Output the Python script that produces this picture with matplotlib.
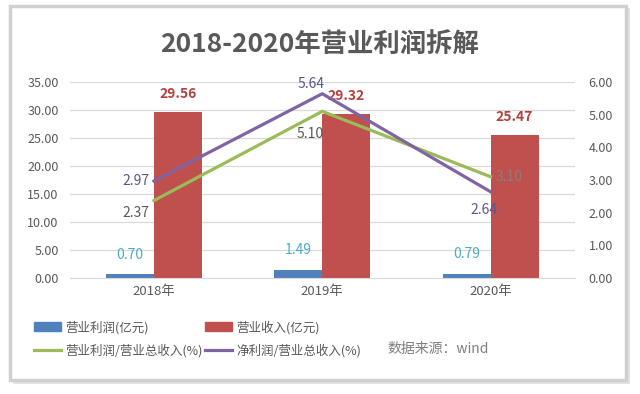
import matplotlib.pyplot as plt
from matplotlib.patches import FancyBboxPatch, Patch
from matplotlib.lines import Line2D

plt.rcParams['font.family'] = ['Noto Sans CJK SC', 'DejaVu Sans']

# data
years = ["2018年", "2019年", "2020年"]
op_profit = [0.70, 1.49, 0.79]          # 营业利润(亿元)
revenue = [29.56, 29.32, 25.47]         # 营业收入(亿元)
op_margin = [2.37, 5.10, 3.10]          # 营业利润/营业总收入(%)
net_margin = [2.97, 5.64, 2.64]         # 净利润/营业总收入(%)

blue = "#4F81BD"
red = "#C0504D"
green = "#9BBB59"
purple = "#8064A2"
grey = "#595959"

fig = plt.figure(figsize=(6.4, 3.94), dpi=100)

# card frame with shadow
shadow = FancyBboxPatch((0.02, 0.025), 0.965, 0.955, boxstyle="square,pad=0",
                        transform=fig.transFigure, facecolor="#e3e3e3",
                        edgecolor="none", zorder=-2)
card = FancyBboxPatch((0.015, 0.035), 0.963, 0.95, boxstyle="square,pad=0",
                      transform=fig.transFigure, facecolor="white",
                      edgecolor="#d0d0d0", linewidth=2.5, zorder=-1)
fig.patches.extend([shadow, card])

ax = fig.add_axes([0.109, 0.2944, 0.789, 0.4976])
ax.set_facecolor("none")
ax2 = ax.twinx()

x = range(len(years))
w = 0.285
xb = [i - w / 2 for i in x]
xr = [i + w / 2 for i in x]
b1 = ax.bar(xb, op_profit, w, color=blue, zorder=2)
b2 = ax.bar(xr, revenue, w, color=red, zorder=2)

ax.set_ylim(0, 35)
ax.set_yticks([0, 5, 10, 15, 20, 25, 30, 35])
ax.set_yticklabels([f"{v:.2f}" for v in ax.get_yticks()])
ax.set_xlim(-0.5, 2.5)
ax.set_xticks(list(x))
ax.set_xticklabels(years)
ax.grid(axis="y", color="#d9d9d9", linewidth=0.9, zorder=0)
ax.set_axisbelow(True)

l1, = ax2.plot(list(x), op_margin, color=green, linewidth=2.3, zorder=3)
l2, = ax2.plot(list(x), net_margin, color=purple, linewidth=2.3, zorder=3)
ax2.set_ylim(0, 6)
ax2.set_yticks([0, 1, 2, 3, 4, 5, 6])
ax2.set_yticklabels([f"{v:.2f}" for v in ax2.get_yticks()])

for a in (ax, ax2):
    for s in a.spines.values():
        s.set_visible(False)
    a.tick_params(length=0, labelsize=9, colors=grey)
ax.spines["bottom"].set_visible(True)
ax.spines["bottom"].set_color("#d9d9d9")
ax.tick_params(axis="x", labelsize=9.5, pad=5)
ax.tick_params(axis="y", pad=8)
ax2.tick_params(axis="y", pad=10)

# bar labels
for xi, v in zip(xb, op_profit):
    ax.annotate(f"{v:.2f}", (xi, v), xytext=(0, 14), textcoords="offset points",
                ha="center", va="center", color="#4BACC6", fontsize=10)
for xi, v in zip(xr, revenue):
    ax.annotate(f"{v:.2f}", (xi, v), xytext=(0, 13), textcoords="offset points",
                ha="center", va="center", color="#B5403D", fontsize=10,
                fontweight="bold")

# line labels
net_off = [(-3, 0, "right"), (2, 7, "right"), (5, -13, "right")]
op_off = [(-3, -9, "right"), (1, -16, "right"), (4, 0, "left")]
for xi, v, (dx, dy, ha) in zip(x, net_margin, net_off):
    ax2.annotate(f"{v:.2f}", (xi, v), xytext=(dx, dy), textcoords="offset points",
                 ha=ha, va="center", color="#5F5484", fontsize=10, zorder=5)
for i, (xi, v, (dx, dy, ha)) in enumerate(zip(x, op_margin, op_off)):
    c = "#8a7f7f" if i == 2 else grey
    ax2.annotate(f"{v:.2f}", (xi, v), xytext=(dx, dy), textcoords="offset points",
                 ha=ha, va="center", color=c, fontsize=10, zorder=5)

# title
fig.text(0.5, 0.885, "2018-2020年营业利润拆解", ha="center", va="center",
         fontsize=19, fontweight="bold", color=grey)

# legend
handles = [Patch(color=blue), Line2D([], [], color=green, linewidth=2.3),
           Patch(color=red), Line2D([], [], color=purple, linewidth=2.3)]
labels = ["营业利润(亿元)", "营业利润/营业总收入(%)",
          "营业收入(亿元)", "净利润/营业总收入(%)"]
fig.legend(handles, labels, ncol=2, loc="upper left",
           bbox_to_anchor=(0.035, 0.215), frameon=False, fontsize=9,
           labelcolor=grey, handlelength=2.2, handleheight=0.7,
           columnspacing=0.2, handletextpad=0.3, labelspacing=0.75)

fig.text(0.605, 0.115, "数据来源：wind", ha="left", va="center",
         fontsize=10, color="#7f7f7f")

fig.savefig("out.png", dpi=100)
